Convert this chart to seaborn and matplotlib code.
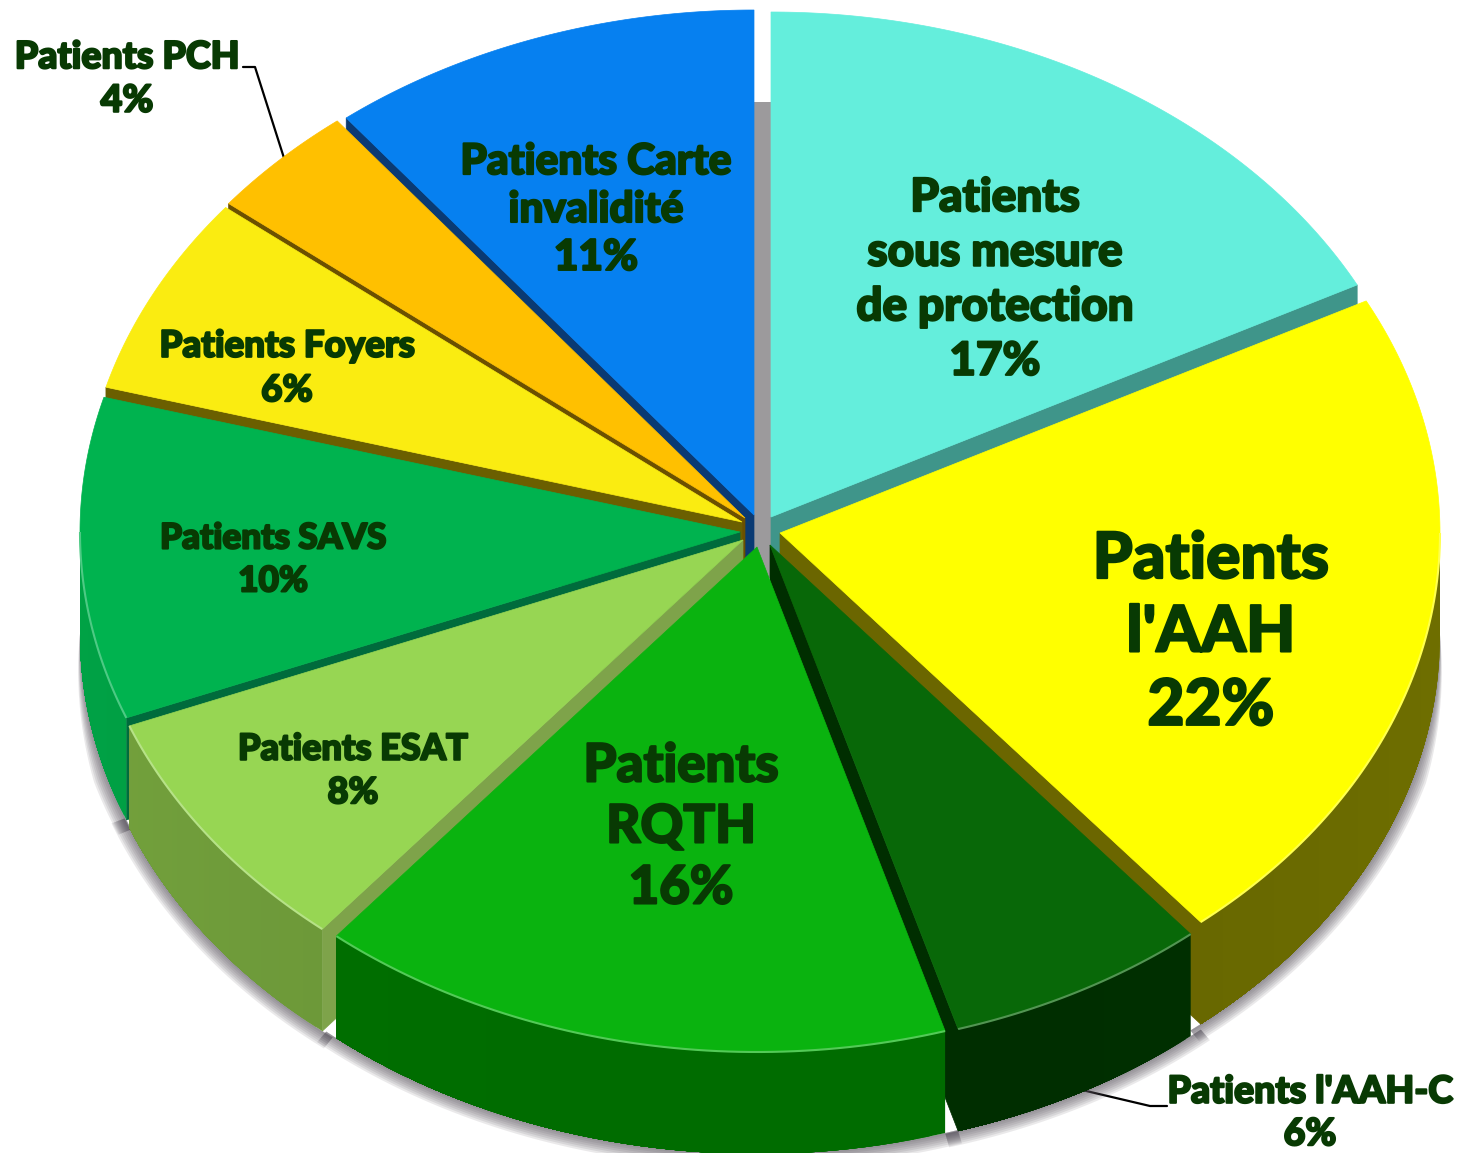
import numpy as np
import seaborn as sns
import matplotlib.pyplot as plt
import matplotlib.patheffects as pe
from matplotlib.colors import to_rgb

# Valeurs (les etiquettes les arrondissent)
noms = ["Patients\nsous mesure\nde protection", "Patients\nl'AAH", "Patients l'AAH-C", "Patients\nRQTH",
        "Patients ESAT", "Patients SAVS", "Patients Foyers", "Patients PCH", "Patients Carte\ninvalidité"]
valeurs = [17.4, 21.6, 6.4, 15.6, 8.0, 10.3, 6.4, 3.7, 10.6]

couleurs = ["#64EEDC", "#FFFF00", "#086808", "#0AB30F", "#97D653", "#00B34F", "#FAEC11", "#FFC000", "#0680F0"]
murs = ["#3F958A", "#666600", "#002E00", "#006C00", "#6B9638", "#009640", "#6B5F00", "#6B5000", "#0A3A73"]
murs_radiaux = ["#3F958A", "#6B6600", "#002E00", "#006E00", "#7EA34A", "#006B3C", "#6B5F00", "#6B5000", "#0A3A73"]

# Position de la pointe de chaque part (explosion)
apex_x = [771, 780, 770, 757, 743, 740, 742, 745, 754]
apex_y = [517, 533, 545, 547, 540, 532, 522, 518, 515]
rx, ry, prof = 660, 505, 102

# Position et taille des etiquettes
label_x = [995, 1211, 1310, 681, 353, 273, 287, 127, 596]
label_y = [280, 633, 1113, 827, 771, 560, 368, 79, 210]
label_t = [33, 46, 27, 38, 26, 25.3, 26.4, 27, 30.5]
label_ls = [1.37, 1.30, 1.30, 1.30, 1.39, 1.42, 1.37, 1.34, 1.32]

texte = "#083A03"
gris = "#9C9A9C"

sns.set_theme(style="white")
plt.rcParams['font.family'] = ['Lato', 'DejaVu Sans']
palette = sns.color_palette(couleurs)

fig = plt.figure(figsize=(14.58, 11.53), dpi=100)
ax = fig.add_axes([0, 0, 1, 1])
ax.set_xlim(0, 1458)
ax.set_ylim(1153, 0)
ax.axis('off')

bornes = np.concatenate([[0], np.cumsum(valeurs)]) / np.sum(valeurs) * 2 * np.pi


def point(i, theta):
    return apex_x[i] + rx * np.sin(theta), apex_y[i] - ry * np.cos(theta)


def assombrir(couleur, f):
    return tuple(min(1, c * f) for c in to_rgb(couleur))


def melanger(couleur, f):
    return tuple(c + (1 - c) * f for c in to_rgb(couleur))


# Couloir gris au centre
ax.fill([752, 773, 773, 752], [102, 102, 578, 578], color=gris, lw=0, zorder=1)

# Lignes de rappel
ax.plot([243, 255, 284], [67, 67, 158], color='black', lw=1.6, zorder=1)
ax.plot([1167, 1150, 1082], [1106, 1106, 1090], color='black', lw=1.6, zorder=1)

# Ombre sous le bord avant, qui s'amincit vers les cotes
for i in range(len(valeurs)):
    debut, fin = max(bornes[i] - 0.02, np.pi / 2), min(bornes[i + 1] + 0.02, 3 * np.pi / 2)
    if fin <= debut:
        continue
    t = np.linspace(debut, fin, 60)
    x, y = point(i, t)
    y = y + prof
    amincir = np.clip(np.abs(np.cos(t)) * 3.5, 0, 1)
    for k in [14, 12, 10, 8, 6, 4, 2]:
        xe = x + np.sin(t) * k * amincir
        ye = y - np.cos(t) * k * amincir
        ax.fill(np.r_[x, xe[::-1]], np.r_[y, ye[::-1]], color='#55505A', alpha=0.12, lw=0, zorder=2)

# De l'arriere vers l'avant
ordre = np.argsort([-np.cos((bornes[i] + bornes[i + 1]) / 2) for i in range(len(valeurs))])
for n, i in enumerate(ordre):
    z = 3 + n
    debut, fin = bornes[i], bornes[i + 1]

    # Mur radial visible
    if np.sin(fin) > 0:
        xb, yb = point(i, fin)
        ax.fill([apex_x[i], xb, xb, apex_x[i]], [apex_y[i], yb, yb + prof, apex_y[i] + prof],
                color=murs_radiaux[i], lw=0.5, zorder=z)
    if np.sin(debut) < 0:
        xb, yb = point(i, debut)
        ax.fill([apex_x[i], xb, xb, apex_x[i]], [apex_y[i], yb, yb + prof, apex_y[i] + prof],
                color=murs_radiaux[i], lw=0.5, zorder=z)

    # Mur exterieur : chaque morceau va jusqu'au bout, le suivant le recouvre
    d, f = max(debut, np.pi / 2), min(fin, 3 * np.pi / 2)
    if f > d:
        t = np.linspace(d, f, 41)
        for a in t[:-1]:
            reste = t[t >= a]
            x, y = point(i, reste)
            nuance = 1 + 0.08 * abs(np.sin(a)) ** 3
            ax.fill(np.r_[x, x[::-1]], np.r_[y, y[::-1] + prof],
                    color=assombrir(murs[i], nuance), lw=0, zorder=z)

    # Dessus de la part
    t = np.linspace(debut, fin, 120)
    x, y = point(i, t)
    ax.fill(np.r_[apex_x[i], x], np.r_[apex_y[i], y], color=palette[i], lw=0.5, zorder=z)

    # Liseré clair sur le bord avant
    if f > d:
        t = np.linspace(d, f, 60)
        x, y = point(i, t)
        ax.plot(x, y, color=melanger(couleurs[i], 0.3), lw=1.5, zorder=z, solid_capstyle='butt')

# Etiquettes
for i in range(len(valeurs)):
    ax.text(label_x[i], label_y[i], f"{noms[i]}\n{valeurs[i]:.0f}%", ha='center', va='center',
            fontsize=label_t[i], fontweight='black', color=texte, linespacing=label_ls[i], zorder=50,
            path_effects=[pe.withStroke(linewidth=1.5, foreground=texte)])

plt.savefig('out.png', dpi=100)
plt.close()
